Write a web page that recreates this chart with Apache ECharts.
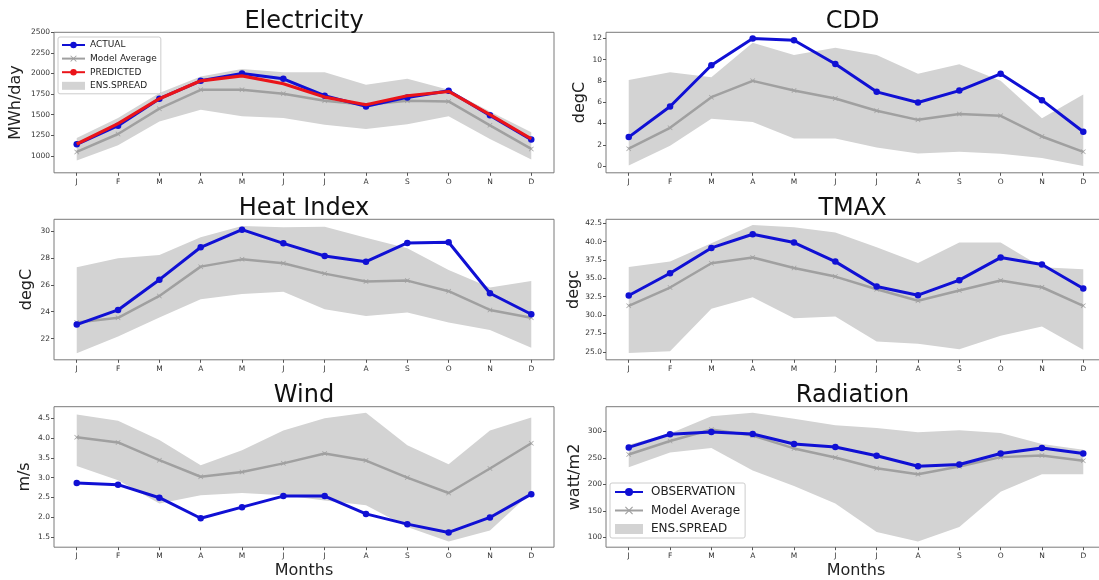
<!DOCTYPE html>
<html>
<head>
<meta charset="utf-8">
<script src="https://cdn.jsdelivr.net/npm/echarts@6/dist/echarts.min.js"></script>
<style>
html,body{margin:0;padding:0;background:#fff;}
#chart{width:1099px;height:580px;}
</style>
</head>
<body>
<div id="chart"></div>
<script>
// ---- data ----
const months = ['J','F','M','A','M','J','J','A','S','O','N','D'];

const elecActual = [1141,1367,1694,1911,2000,1935,1730,1601,1710,1790,1492,1198];
const elecPred   = [1145,1391,1694,1911,1972,1875,1714,1621,1730,1782,1500,1206];
const elecAvg    = [1048,1266,1573,1802,1802,1754,1669,1621,1669,1661,1371,1085];
const elecHigh   = [1218,1460,1762,1964,2056,2016,2016,1863,1935,1802,1540,1286];
const elecLow    = [944,1129,1419,1560,1480,1460,1379,1327,1383,1480,1206,956];

const cddObs  = [2.72,5.59,9.47,11.97,11.81,9.59,6.97,5.97,7.09,8.66,6.19,3.22];
const cddAvg  = [1.63,3.59,6.47,8.0,7.09,6.34,5.19,4.34,4.88,4.72,2.78,1.34];
const cddHigh = [8.09,8.81,8.34,11.59,10.44,11.12,10.44,8.66,9.56,8.0,4.5,6.72];
const cddLow  = [0.06,1.91,4.44,4.13,2.59,2.59,1.75,1.19,1.34,1.16,0.75,0.0];

const heatObs  = [23.04,24.13,26.38,28.79,30.10,29.08,28.14,27.72,29.11,29.16,25.37,23.81];
const heatAvg  = [23.19,23.54,25.17,27.35,27.89,27.60,26.83,26.24,26.31,25.52,24.13,23.54];
const heatHigh = [27.30,27.97,28.22,29.53,30.37,30.27,30.32,29.50,28.71,27.10,25.79,26.28];
const heatLow  = [20.91,22.15,23.56,24.92,25.32,25.49,24.18,23.68,23.93,23.19,22.64,21.31];

const tmaxObs  = [32.66,35.70,39.14,41.0,39.87,37.28,33.89,32.71,34.75,37.83,36.88,33.61];
const tmaxAvg  = [31.26,33.75,37.06,37.83,36.42,35.24,33.52,31.94,33.34,34.70,33.79,31.26];
const tmaxHigh = [36.56,37.28,39.78,42.27,41.95,41.23,39.23,37.10,39.87,39.87,36.51,36.24];
const tmaxLow  = [24.82,25.09,30.85,32.43,29.58,29.81,26.41,26.09,25.36,27.18,28.45,25.27];

const windObs  = [2.86,2.82,2.49,1.97,2.25,2.53,2.53,2.08,1.82,1.61,1.99,2.58];
const windAvg  = [4.02,3.89,3.44,3.02,3.14,3.36,3.61,3.43,3.0,2.61,3.23,3.87];
const windHigh = [4.60,4.44,3.95,3.31,3.69,4.19,4.50,4.64,3.82,3.34,4.19,4.52];
const windLow  = [3.29,2.93,2.34,2.55,2.61,2.55,2.42,2.30,1.75,1.38,1.66,2.62];

const radObs  = [269.6,294.3,298.7,294.9,275.9,270.3,253.8,234.2,237.3,258.2,268.4,258.2];
const radAvg  = [256.3,281.6,303.2,291.8,267.7,250.6,230.4,219.0,233.5,251.3,254.4,244.3];
const radHigh = [274.7,295.6,328.5,334.8,323.4,311.4,306.3,298.1,301.9,296.8,275.9,265.2];
const radLow  = [232.3,260.1,268.4,225.9,196.8,163.9,110.1,92.4,119.6,186.1,219.0,219.0];

// tick labels
const elecTicks = [1000,1250,1500,1750,2000,2250,2500];
const cddTicks  = [0,2,4,6,8,10,12];
const heatTicks = [22,24,26,28,30];
const tmaxTicks = [25.0,27.5,30.0,32.5,35.0,37.5,40.0,42.5];
const windTicks = [1.5,2.0,2.5,3.0,3.5,4.0,4.5];
const radTicks  = [100,150,200,250,300];

// ---- styling / layout ----
const BLUE = '#1010d4', GRAY = '#a0a0a0', BAND = '#d3d3d3', RED = '#ea1419';
const FONT = 'DejaVu Sans';
const XSYM = 'path://M0,1 L1,0 L5,4 L9,0 L10,1 L6,5 L10,9 L9,10 L5,6 L1,10 L0,9 L4,5 Z';
const monthIdx = months.map((m,i)=>i);

const panels = [
  {title:'Electricity', yname:'MWh/day', left:54,  top:32.3,  min:795,   max:2500,  ticks:elecTicks, dec:0, nameGap:30,
   obs:elecActual, obsName:'ACTUAL', avg:elecAvg, lo:elecLow, hi:elecHigh, pred:elecPred},
  {title:'CDD', yname:'degC', left:606, top:32.3,  min:-0.63,  max:12.56, ticks:cddTicks, dec:0, nameGap:18,
   obs:cddObs, obsName:'OBSERVATION', avg:cddAvg, lo:cddLow, hi:cddHigh},
  {title:'Heat Index', yname:'degC', left:54, top:219.3, min:20.42, max:30.87, ticks:heatTicks, dec:0, nameGap:19,
   obs:heatObs, obsName:'OBSERVATION', avg:heatAvg, lo:heatLow, hi:heatHigh},
  {title:'TMAX', yname:'degc', left:606, top:219.3, min:23.91, max:43.04, ticks:tmaxTicks, dec:1, nameGap:24,
   obs:tmaxObs, obsName:'OBSERVATION', avg:tmaxAvg, lo:tmaxLow, hi:tmaxHigh},
  {title:'Wind', yname:'m/s', left:54, top:406.7, min:1.236, max:4.795, ticks:windTicks, dec:1, nameGap:21, xname:'Months',
   obs:windObs, obsName:'OBSERVATION', avg:windAvg, lo:windLow, hi:windHigh},
  {title:'Radiation', yname:'watt/m2', left:606, top:406.7, min:81.6, max:346.3, ticks:radTicks, dec:0, nameGap:23, xname:'Months',
   obs:radObs, obsName:'OBSERVATION', avg:radAvg, lo:radLow, hi:radHigh}
];
const W = 500, H = 140.5;

const grids = [], xAxes = [], yAxes = [], series = [], titles = [];
const tickLabel = {fontFamily:FONT, fontSize:7.5, color:'#333'};
const pair = arr => arr.map((v,i)=>[i,v]);

function bandRenderer(lo, hi) {
  return function (params, api) {
    const pts = [];
    for (let i = 0; i < hi.length; i++) pts.push(api.coord([i, hi[i]]));
    for (let i = lo.length - 1; i >= 0; i--) pts.push(api.coord([i, lo[i]]));
    return {type:'polygon', shape:{points:pts}, style:{fill:BAND, stroke:null}, silent:true};
  };
}

panels.forEach((p,k)=>{
  grids.push({left:p.left, top:p.top, width:W, height:H, show:true, borderColor:'#7a7a7a', borderWidth:1,
               backgroundColor:'transparent', outerBoundsMode:'none', containLabel:false});
  titles.push({text:p.title, left:p.left+W/2 - (p.left>300 ? 3.5 : 0), top:p.top+1.5, textAlign:'center', textVerticalAlign:'bottom', padding:0,
               textStyle:{fontFamily:FONT, fontSize:24, fontWeight:'normal', color:'#111'}});
  xAxes.push({gridIndex:k, type:'value', min:-0.55, max:11.55,
    name:p.xname||'', nameLocation:'middle', nameGap:16,
    nameTextStyle:{fontFamily:FONT, fontSize:16, color:'#222'},
    axisLine:{show:false, onZero:false}, splitLine:{show:false},
    axisTick:{show:true, length:3, lineStyle:{color:'#555'}, customValues:monthIdx},
    axisLabel:Object.assign({show:true, margin:5, customValues:monthIdx, formatter:v=>months[Math.round(v)]}, tickLabel)});
  yAxes.push({gridIndex:k, type:'value', min:p.min, max:p.max,
    name:p.yname, nameLocation:'middle', nameGap:p.nameGap, nameRotate:90,
    nameTextStyle:{fontFamily:FONT, fontSize:16, color:'#222'},
    axisLine:{show:false, onZero:false}, splitLine:{show:false},
    axisTick:{show:true, length:3, lineStyle:{color:'#555'}, customValues:p.ticks},
    axisLabel:Object.assign({show:true, margin:4, customValues:p.ticks, formatter:v=>Number(v).toFixed(p.dec)}, tickLabel)});

  // ensemble spread band drawn as one polygon through the axis scales
  series.push({type:'custom', name:'ENS.SPREAD', xAxisIndex:k, yAxisIndex:k,
    data:[[0, p.lo[0], p.hi[0]]], renderItem:bandRenderer(p.lo, p.hi),
    itemStyle:{color:BAND}, silent:true, z:1});
  series.push({type:'line', name:'Model Average', xAxisIndex:k, yAxisIndex:k, data:pair(p.avg),
    symbol:XSYM, symbolSize:5, itemStyle:{color:GRAY}, lineStyle:{color:GRAY, width:2.5}, z:2});
  series.push({type:'line', name:p.obsName, xAxisIndex:k, yAxisIndex:k, data:pair(p.obs),
    symbol:'circle', symbolSize:6.5, itemStyle:{color:BLUE}, lineStyle:{color:BLUE, width:3}, z:3});
  if (p.pred) {
    series.push({type:'line', name:'PREDICTED', xAxisIndex:k, yAxisIndex:k, data:pair(p.pred),
      symbol:'none', itemStyle:{color:RED}, lineStyle:{color:RED, width:3.2}, z:4});
  }
});

const legends = [
  {orient:'vertical', left:58, top:37, padding:[3,4,3,3], itemWidth:23, itemHeight:8, itemGap:3.6,
   backgroundColor:'rgba(255,255,255,0.85)', borderColor:'#cccccc', borderWidth:1, borderRadius:2,
   textStyle:{fontFamily:FONT, fontSize:9, lineHeight:10, color:'#222'}, selectedMode:false, z:10,
   data:[{name:'ACTUAL'},{name:'Model Average'},{name:'PREDICTED'},{name:'ENS.SPREAD', icon:'rect', itemStyle:{color:BAND}}]},
  {orient:'vertical', left:610, top:483, padding:[2,5,2,4], itemWidth:28, itemHeight:10, itemGap:4.5,
   backgroundColor:'rgba(255,255,255,0.85)', borderColor:'#cccccc', borderWidth:1, borderRadius:2,
   textStyle:{fontFamily:FONT, fontSize:12, lineHeight:14, color:'#222', padding:[0,0,0,3]}, selectedMode:false, z:10,
   data:[{name:'OBSERVATION'},{name:'Model Average'},{name:'ENS.SPREAD', icon:'rect', itemStyle:{color:BAND}}]}
];

const chart = echarts.init(document.getElementById('chart'), null, {renderer:'canvas'});
chart.setOption({
  animation:false,
  backgroundColor:'#ffffff',
  title:titles,
  legend:legends,
  grid:grids,
  xAxis:xAxes,
  yAxis:yAxes,
  series:series
});
</script>
</body>
</html>
